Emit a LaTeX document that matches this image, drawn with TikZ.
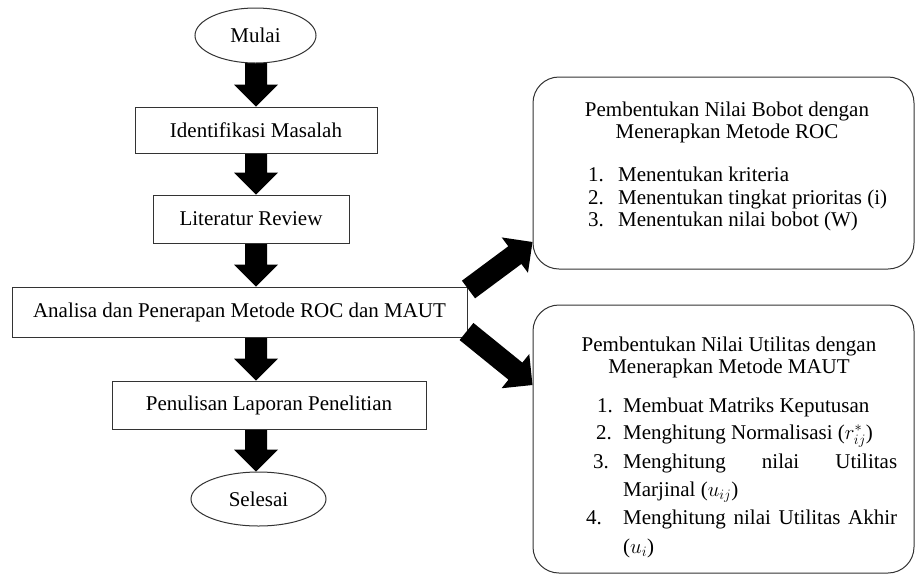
\documentclass[tikz,border=0pt]{standalone}
\usepackage{fontspec}
\setmainfont{Liberation Serif}
\usetikzlibrary{shapes.geometric,calc,backgrounds}
\hyphenpenalty=10000
\exhyphenpenalty=10000
\newcommand\diagfont{\fontsize{21}{24}\selectfont}
\newcommand\blockarrow[2]{%
  \coordinate (ba) at (#1);
  \coordinate (bb) at (#2);
  \coordinate (bn) at ($(bb)!22pt!(ba)$);
  \fill[black] ($(ba)!11pt!90:(bb)$) -- ($(bn)!11pt!90:(bb)$) -- ($(bn)!22pt!90:(bb)$)
    -- (bb) -- ($(bn)!22pt!-90:(bb)$) -- ($(bn)!11pt!-90:(bb)$) -- ($(ba)!11pt!-90:(bb)$) -- cycle;
}
\tikzset{
  box/.style={draw=black!80, line width=1pt, fill=white, inner sep=0pt, font=\diagfont},
  oval/.style={ellipse, draw=black!80, line width=1pt, fill=white, inner sep=0pt, font=\diagfont},
  rbox/.style={draw=black!80, line width=1pt, fill=white, rounded corners=26pt, inner sep=0pt},
  txt/.style={inner sep=0pt, font=\diagfont},
}
\begin{document}
\begin{tikzpicture}[x=1pt,y=-1pt]
\useasboundingbox (0,0) rectangle (916,579);
% flow nodes
\node[oval, minimum width=121pt, minimum height=55pt] (mulai) at (255.5,35.5) {Mulai};
\node[box, minimum width=242pt, minimum height=46pt] (ident) at (256,130) {Identifikasi Masalah};
\node[box, minimum width=196pt, minimum height=48pt] (lit) at (251,219) {Literatur Review};
\node[box, minimum width=455pt, minimum height=50pt] (ana) at (239.5,312) {Analisa dan Penerapan Metode ROC dan MAUT};
\node[box, minimum width=314pt, minimum height=48pt] (tulis) at (269,405) {Penulisan Laporan Penelitian};
\node[oval, minimum width=135pt, minimum height=54pt] (selesai) at (258.5,499) {Selesai};
% right boxes
\node[rbox, minimum width=381pt, minimum height=192pt] (roc) at (723.5,173) {};
\node[rbox, minimum width=381pt, minimum height=268pt] (maut) at (723.5,439) {};
% vertical arrows
\coordinate (col) at (256,0);
\begin{pgfonlayer}{background}
\blockarrow{mulai.center -| col}{ident.north -| col}
\blockarrow{ident.center -| col}{lit.north -| col}
\blockarrow{lit.center -| col}{ana.north -| col}
\blockarrow{ana.center -| col}{tulis.north -| col}
\blockarrow{tulis.center -| col}{selesai.north -| col}
\end{pgfonlayer}
% diagonal arrows
\coordinate (h1) at (0,242);
\coordinate (h2) at (0,385);
\coordinate (t1) at ([shift={(1,3)}]ana.north east);
\coordinate (t2) at ([shift={(-1,-6)}]ana.south east);
\coordinate (e1) at (roc.west |- h1);
\coordinate (e2) at (maut.west |- h2);
\blockarrow{t1}{e1}
\blockarrow{t2}{e2}
% ROC text
\node[txt, anchor=base] (roct1) at (727,116) {Pembentukan Nilai Bobot dengan};
\node[txt, anchor=base] (roct2) at (727,138) {Menerapkan Metode ROC};
\node[txt, anchor=base west] (rocn1) at (588,181) {1.};
\node[txt, anchor=base west] (roci1) at (618,181) {Menentukan kriteria};
\node[txt, anchor=base west] (rocn2) at (588,204) {2.};
\node[txt, anchor=base west] (roci2) at (618,204) {Menentukan tingkat prioritas (i)};
\node[txt, anchor=base west] (rocn3) at (588,226) {3.};
\node[txt, anchor=base west] (roci3) at (618,226) {Menentukan nilai bobot (W)};
% MAUT text
\node[txt, anchor=base] (mautt1) at (729,351) {Pembentukan Nilai Utilitas dengan};
\node[txt, anchor=base] (mautt2) at (729,373) {Menerapkan Metode MAUT};
\node[txt, anchor=base west] (mautn1) at (597,412) {1.};
\node[txt, anchor=base west] (mauti1) at (623,412) {Membuat Matriks Keputusan};
\node[txt, anchor=base west] (mautn2) at (596,439) {2.};
\node[txt, anchor=base west] (mauti2) at (623,439) {Menghitung Normalisasi ($r_{ij}^{\smash{*}}$)};
\node[txt, anchor=base west] (mautn3) at (593,468) {3.};
\node[txt, anchor=base west] (mauti3a) at (623,468) {\hbox to 274pt{Menghitung\hfill nilai\hfill Utilitas}};
\node[txt, anchor=base west] (mauti3b) at (623,496) {Marjinal ($u_{ij}$)};
\node[txt, anchor=base west] (mautn4) at (586,524) {4.};
\node[txt, anchor=base west] (mauti4a) at (623,524) {\hbox to 274pt{Menghitung nilai Utilitas Akhir}};
\node[txt, anchor=base west] (mauti4b) at (623,553) {($u_{i}$)};
\end{tikzpicture}
\end{document}
